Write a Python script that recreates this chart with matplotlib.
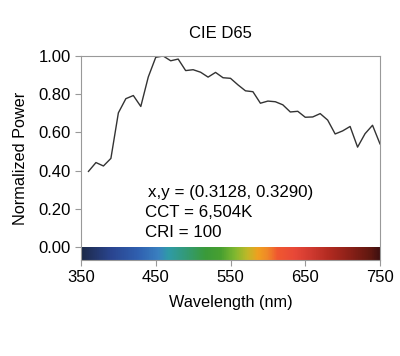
import numpy as np
import matplotlib
matplotlib.use('Agg')
import matplotlib.pyplot as plt
from matplotlib.colors import LinearSegmentedColormap

plt.rcParams['font.family'] = ['Liberation Sans', 'DejaVu Sans']

# CIE D65 relative spectral power (5 nm), normalised to the peak
wavelength = list(range(360, 755, 5))
d65 = [46.6383, 49.3637, 52.0891, 51.0323, 49.9755, 52.3118, 54.6482, 68.7015,
       82.7549, 87.1204, 91.486, 92.4589, 93.4318, 90.057, 86.6823, 95.7736,
       104.865, 110.936, 117.008, 117.41, 117.812, 116.336, 114.861, 115.392,
       115.923, 112.367, 108.811, 109.082, 109.354, 108.578, 107.802, 106.296,
       104.79, 106.239, 107.689, 106.047, 104.405, 104.225, 104.046, 102.023,
       100.0, 98.1671, 96.3342, 96.0611, 95.788, 92.2368, 88.6856, 89.3459,
       90.0062, 89.8026, 89.5991, 88.6489, 87.6987, 85.4936, 83.2886, 83.4939,
       83.6992, 81.863, 80.0268, 80.1207, 80.2146, 81.2462, 82.2778, 80.281,
       78.2842, 74.0027, 69.7213, 70.6652, 71.6091, 72.979, 74.349, 67.9765,
       61.604, 65.7448, 69.8856, 72.4863, 75.087, 69.3398, 63.5927]

info_lines = ['x,y = (0.3128, 0.3290)', 'CCT = 6,504K', 'CRI = 100']

# colour stops for the spectrum strip (wavelength, colour)
strip_wl = [350, 359, 390, 426, 453, 466, 493, 516, 537, 556, 573, 587, 600,
            613, 636, 658, 684, 711, 738, 750]
strip_col = ['#1c2a48', '#20305a', '#2a4590', '#3060b0', '#3a80c0', '#2f9aa8',
             '#349a70', '#3a9a3a', '#48a030', '#80b830', '#c0b828', '#f0a020',
             '#f08828', '#f05830', '#e84838', '#d03a30', '#b02a20', '#8a2018',
             '#601810', '#401010']

y = np.array(d65) / max(d65)

fig = plt.figure(figsize=(4, 3.56), dpi=100)
ax = fig.add_axes([0.2025, 0.2697, 0.7475, 0.573])

ax.plot(wavelength, y, color='#333333', lw=1.0)

# spectrum strip below zero
stops = [(w - 350) / 400 for w in strip_wl]
cmap = LinearSegmentedColormap.from_list('spec', list(zip(stops, strip_col)))
ax.imshow(np.linspace(0, 1, 400).reshape(1, -1), cmap=cmap, aspect='auto',
          extent=[350, 750, -0.068, 0], zorder=2)

ax.set_xlim(350, 750)
ax.set_ylim(-0.068, 1.0)
ax.set_xticks([350, 450, 550, 650, 750])
ax.set_yticks([0, 0.2, 0.4, 0.6, 0.8, 1.0])
ax.set_yticklabels(['0.00', '0.20', '0.40', '0.60', '0.80', '1.00'])

for s in ax.spines.values():
    s.set_color('#999999')
ax.tick_params(colors='#999999', labelcolor='black', labelsize=12, length=4)

ax.set_title('CIE D65', fontsize=12, pad=13, x=0.468)
ax.set_xlabel('Wavelength (nm)', fontsize=11.7, labelpad=7)
ax.set_ylabel('Normalized Power', fontsize=11.7, labelpad=7)

for i, line in enumerate(info_lines):
    ax.text(0.215 + (0.008 if i == 0 else 0), 0.33 - i * 0.098, line,
            transform=ax.transAxes, fontsize=12.2, va='center')

fig.savefig('out.png', dpi=100)
